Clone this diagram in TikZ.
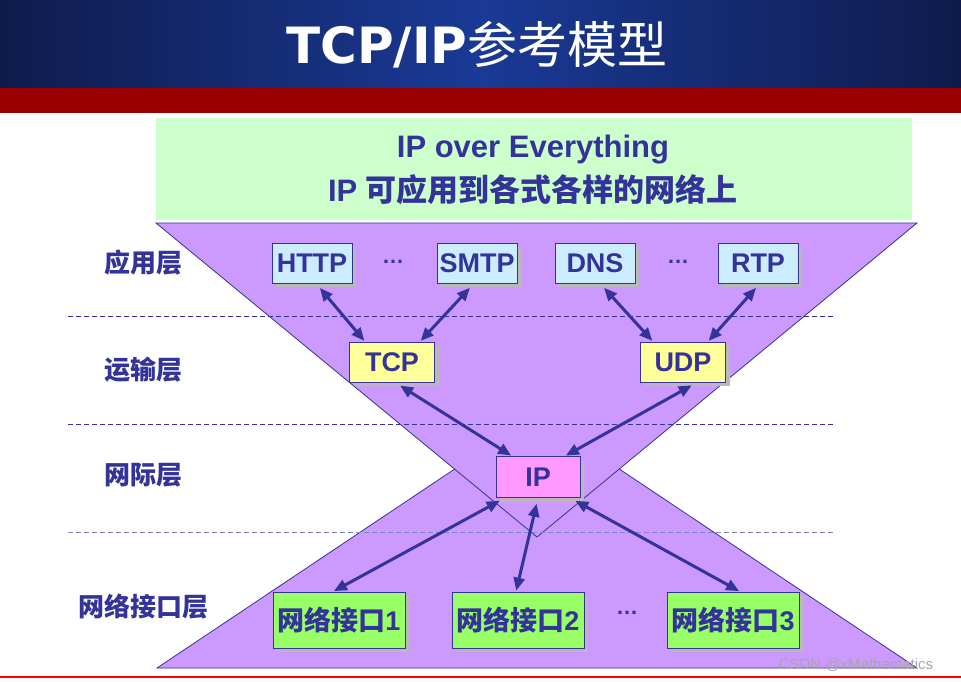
\documentclass[tikz,border=0pt]{standalone}
\usepackage{fontspec}
\setmainfont{Liberation Sans}
\newfontfamily\cjk{Noto Sans CJK SC}
\newfontfamily\titlefont{DejaVu Sans}
\usetikzlibrary{arrows.meta,shadows}

\definecolor{ink}{HTML}{333399}
\definecolor{hourglass}{HTML}{CC99FF}
\definecolor{appblue}{HTML}{CCECFF}
\definecolor{tpyellow}{HTML}{FFFF99}
\definecolor{ippink}{HTML}{FF99FF}
\definecolor{nigreen}{HTML}{99FF66}
\definecolor{bannergreen}{HTML}{CCFFCC}
\definecolor{navydark}{HTML}{0F1B4C}
\definecolor{navylight}{HTML}{1A3A96}
\definecolor{bandred}{HTML}{990000}

\begin{document}
\begin{tikzpicture}[x=1pt,y=-1pt,
      proto/.style={draw=ink, line width=0.8pt, text=ink, inner sep=0pt,
        font=\fontsize{27}{29}\selectfont\bfseries,
        drop shadow={shadow xshift=4pt, shadow yshift=-4pt, fill=gray!55, opacity=1}},
      app/.style={proto, fill=appblue, minimum width=80pt, minimum height=40pt},
      trans/.style={proto, fill=tpyellow, minimum width=85pt, minimum height=40pt},
      inet/.style={proto, fill=ippink, minimum width=84pt, minimum height=41pt},
      netif/.style={proto, fill=nigreen, minimum width=132pt, minimum height=56pt,
        font=\fontsize{27}{29}\selectfont\bfseries},
      layer/.style={text=ink, font=\fontsize{26}{28}\selectfont\cjk\bfseries},
      dots/.style={text=ink, inner sep=0pt, font=\fontsize{22}{24}\selectfont\bfseries},
      link/.style={draw=ink, line width=3pt, shorten <=6pt, shorten >=1pt,
        {Triangle[length=13pt,width=11pt]}-{Triangle[length=13pt,width=11pt]}},
      sep/.style={ink, line width=0.8pt, dash pattern=on 5pt off 3pt}
    ]
    \useasboundingbox (0,0) rectangle (961,682);

    % Title banner
    \shade[left color=navydark, right color=navydark, middle color=navylight] (0,0) rectangle (961,88);
    \fill[bandred] (0,88) rectangle (961,113);
    \node[text=white, font=\fontsize{50}{52}\selectfont] (title) at (477,45)
      {\titlefont\bfseries TCP/IP\cjk\mdseries 参考模型};

    % Green slogan box
    \fill[bannergreen] (156,118) rectangle (912,220);
    \node[text=ink, font=\fontsize{31}{44}\selectfont\bfseries, align=center] (slogan) at (533,170)
      {IP over Everything\\IP {\cjk 可应用到各式各样的网络上}};

    % Hourglass
    \filldraw[fill=hourglass, draw=ink, line width=0.8pt] (157,668) -- (537,414) -- (917,668) -- cycle;
    \filldraw[fill=hourglass, draw=ink, line width=0.8pt] (156,223) -- (917,223) -- (537,537) -- cycle;

    % Layer separators
    \draw[sep] (68,316) -- (835,316);
    \draw[sep] (68,424) -- (835,424);
    \draw[sep, ink!60] (68,532) -- (835,532);

    % Layer names
    \node[layer] (Lapp) at (143,263) {应用层};
    \node[layer] (Ltrans) at (143,370) {运输层};
    \node[layer] (Linet) at (143,475) {网际层};
    \node[layer] (Lnet) at (143,607) {网络接口层};

    % Application layer
    \node[app] (HTTP) at (312,263) {HTTP};
    \node[dots] (d1) at (393,262) {…};
    \node[app] (SMTP) at (477,263) {SMTP};
    \node[app] (DNS) at (595,263) {DNS};
    \node[dots] (d2) at (678,262) {…};
    \node[app] (RTP) at (758,263) {RTP};

    % Transport layer
    \node[trans] (TCP) at (392,362) {TCP};
    \node[trans] (UDP) at (683,362) {UDP};

    % Internet layer
    \node[inet] (IP) at (538,477) {IP};

    % Network interface layer
    \node[netif] (NI1) at (339,620) {\cjk 网络接口\rmfamily 1};
    \node[netif] (NI2) at (518,620) {\cjk 网络接口\rmfamily 2};
    \node[dots] (d3) at (627,613) {…};
    \node[netif] (NI3) at (733,620) {\cjk 网络接口\rmfamily 3};

    % Links
    \draw[link] ([xshift=4pt]HTTP.south) -- ([xshift=-27pt]TCP.north);
    \draw[link] ([xshift=-3pt]SMTP.south) -- ([xshift=28pt]TCP.north);
    \draw[link] ([xshift=5pt]DNS.south) -- ([xshift=-30pt]UDP.north);
    \draw[link] ([xshift=2pt]RTP.south) -- ([xshift=25pt]UDP.north);
    \draw[link] ([xshift=3pt]TCP.south) -- ([xshift=-26pt]IP.north);
    \draw[link] ([xshift=14pt]UDP.south) -- ([xshift=27pt]IP.north);
    \draw[link] ([xshift=-33pt]IP.south) -- ([xshift=-6pt]NI1.north);
    \draw[link] (IP.south) -- ([xshift=-2pt]NI2.north);
    \draw[link] ([xshift=32pt]IP.south) -- ([xshift=7pt]NI3.north);

    % Footer
    \draw[red, line width=2pt] (0,677) -- (961,677);
    \node[text=gray!70, font=\fontsize{15}{17}\selectfont] (mark) at (856,665) {CSDN @xMathematics};

    \end{tikzpicture}
\end{document}
